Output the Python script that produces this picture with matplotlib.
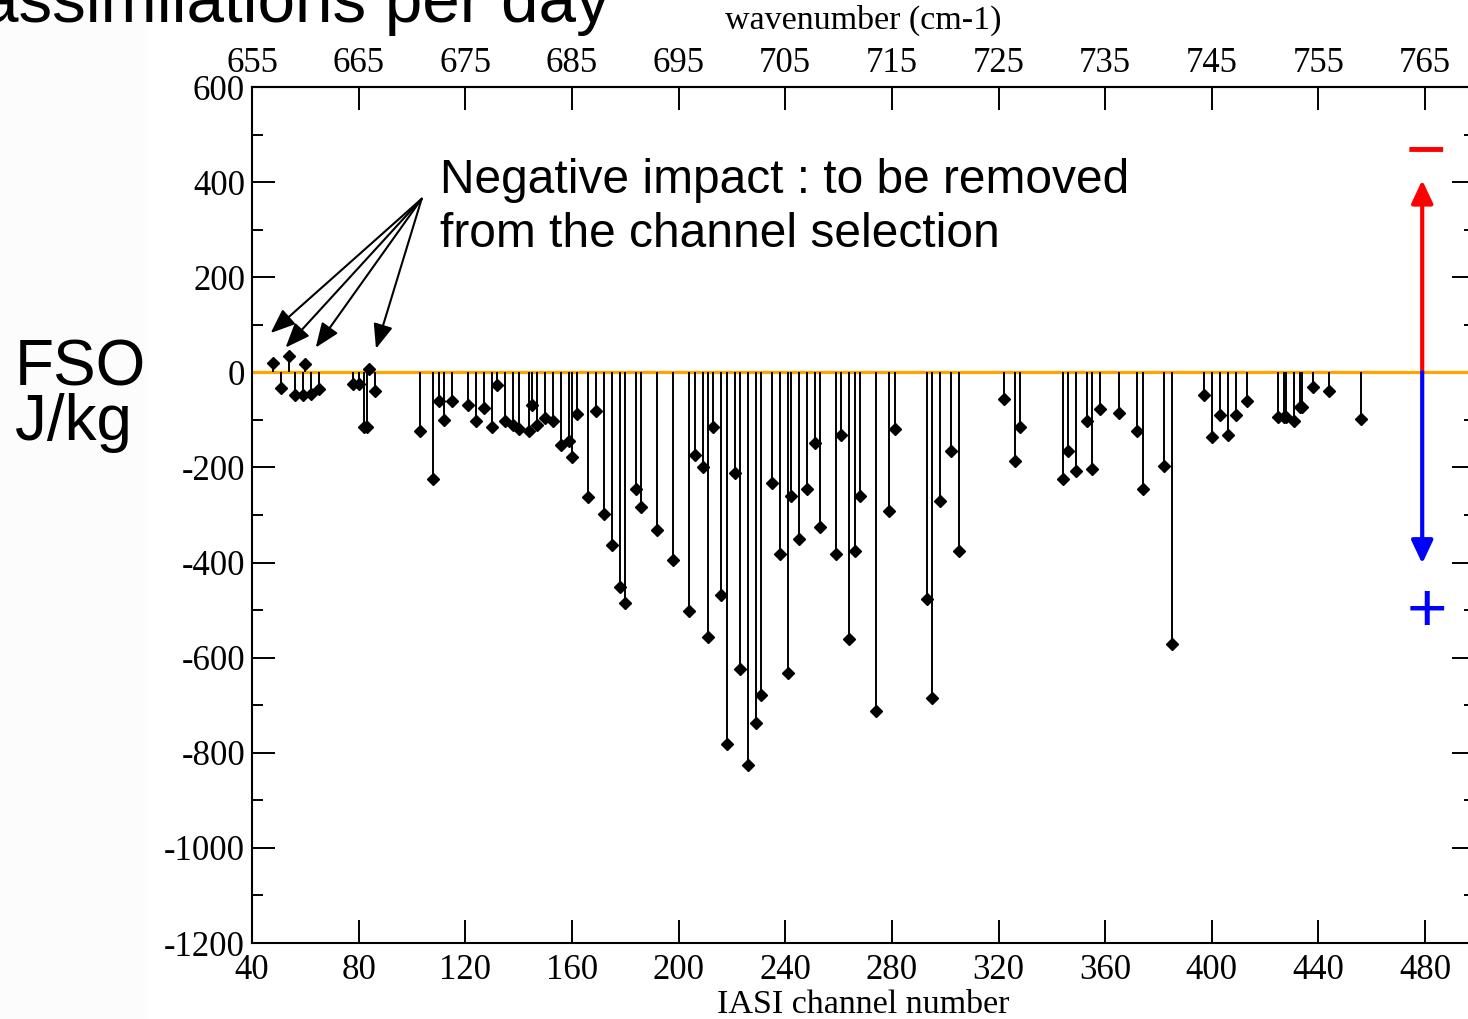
import matplotlib
matplotlib.use('Agg')
import matplotlib.pyplot as plt
from matplotlib.ticker import MultipleLocator
from matplotlib.patches import Rectangle

plt.rcParams['axes.unicode_minus'] = False

# IASI channel number and FSO impact (J/kg)
canales = [48, 51, 54, 56, 59, 60, 62, 65, 78, 80, 82, 83, 84, 86,
           103, 108, 110, 112, 115, 121, 124, 127, 130, 132, 135, 138, 140,
           144, 145, 147, 150, 153, 156, 159, 160, 162, 166, 169, 172, 175,
           178, 180, 184, 186, 192, 198, 204, 206, 209, 211, 213, 216, 218,
           221, 223, 226, 229, 231, 235, 238, 241, 242, 245, 248, 251, 253,
           259, 261, 264, 266, 268, 274, 279, 281, 293, 295, 298, 302, 305,
           322, 326, 328, 344, 346, 349, 353, 355, 358, 365, 372, 374, 382,
           385, 397, 400, 403, 406, 409, 413, 425, 427, 428, 431, 433, 434,
           438, 444, 456]
fso = [20, -32, 34, -48, -48, 17, -45, -36, -24, -25, -115, -115, 8, -39,
       -124, -225, -61, -100, -61, -68, -103, -74, -115, -26, -103, -110, -120,
       -124, -68, -111, -95, -103, -153, -145, -179, -87, -262, -82, -297, -364,
       -451, -486, -245, -283, -331, -394, -502, -173, -199, -557, -115, -469, -781,
       -212, -623, -826, -737, -679, -233, -383, -632, -259, -351, -246, -149, -325,
       -383, -132, -561, -376, -259, -712, -292, -120, -477, -684, -271, -165, -376,
       -57, -186, -116, -225, -165, -208, -103, -204, -78, -85, -123, -246, -196,
       -571, -48, -137, -90, -132, -90, -61, -94, -94, -94, -103, -73, -73,
       -31, -40, -99]

# puntas de las flechas de la anotación
canales_negativos = [47, 52.6, 63.9, 86.5]
fso_negativos = [82.6, 52.1, 52.1, 49.8]

ticks_canal = [40, 80, 120, 160, 200, 240, 280, 320, 360, 400, 440, 480]
ticks_onda = [655, 665, 675, 685, 695, 705, 715, 725, 735, 745, 755, 765]

serif = ['Liberation Serif', 'DejaVu Serif']
sans = ['Liberation Sans', 'DejaVu Sans']

W, H = 1468, 1019
fig = plt.figure(figsize=(W / 100, H / 100), dpi=100)
fig.patches.append(Rectangle((0, 0), 148 / W, 1, transform=fig.transFigure,
                             facecolor='#fcfcfc', edgecolor='none', zorder=0))

ax = fig.add_axes([252 / W, 76 / H, (1475 - 252) / W, 856 / H])
ax.set_xlim(40, 498.7)
ax.set_ylim(-1200, 600)

# tallos verticales y marcadores
ax.vlines(canales, 0, fso, color='black', lw=1.4, zorder=3)
ax.plot(canales, fso, linestyle='none', marker='D', ms=6, color='black', zorder=4)
ax.axhline(0, color='#ffa500', lw=2.3, zorder=2)

# flechas de signo
x_flecha = 478.9
ax.annotate('', xy=(x_flecha, 404), xytext=(x_flecha, 0),
            arrowprops=dict(arrowstyle='-|>,head_length=0.7,head_width=0.33',
                            mutation_scale=20, color='#ff0000', lw=3,
                            shrinkA=0, shrinkB=0), zorder=5)
ax.annotate('', xy=(x_flecha, -402), xytext=(x_flecha, 0),
            arrowprops=dict(arrowstyle='-|>,head_length=0.7,head_width=0.33',
                            mutation_scale=20, color='#0000ff', lw=3,
                            shrinkA=0, shrinkB=0), zorder=5)
ax.text(480.2, 461, '\u2212', color='#ff0000', fontsize=50, family=sans,
        ha='center', va='center')
ax.text(480.7, -507, '+', color='#0000ff', fontsize=50, family=sans,
        ha='center', va='center')

# texto de anotación con flechas
for cx, cy in zip(canales_negativos, fso_negativos):
    ax.annotate('', xy=(cx, cy), xytext=(103.65, 365),
                arrowprops=dict(arrowstyle='-|>,head_length=0.75,head_width=0.3',
                                mutation_scale=20, color='black', lw=1.5,
                                shrinkA=0, shrinkB=0))
ax.text(110.5, 346, 'Negative impact : to be removed\nfrom the channel selection',
        fontsize=34.5, family=sans, ha='left', va='center', linespacing=1.25)

# ejes
ax.set_xticks(ticks_canal)
ax.yaxis.set_major_locator(MultipleLocator(200))
ax.yaxis.set_minor_locator(MultipleLocator(100))
ax.tick_params(axis='both', which='major', direction='in', length=16.5, width=1.4,
               labelsize=25, pad=5)
ax.tick_params(axis='x', which='major', pad=8)
ax.tick_params(axis='y', which='both', right=True)
ax.tick_params(axis='y', which='minor', direction='in', length=8, width=1.4)
ax.tick_params(axis='x', which='both', top=False)
for lbl in ax.get_xticklabels() + ax.get_yticklabels():
    lbl.set_family(serif)
for s in ax.spines.values():
    s.set_linewidth(1.5)

ax.set_xlabel('IASI channel number', fontsize=24.5, family=serif, labelpad=2)

ax_top = ax.secondary_xaxis('top', functions=(lambda c: 645 + c / 4, lambda w: (w - 645) * 4))
ax_top.set_xticks(ticks_onda)
ax_top.tick_params(direction='in', length=16.5, width=1.4, labelsize=25, pad=5)
for lbl in ax_top.get_xticklabels():
    lbl.set_family(serif)
ax_top.spines['top'].set_linewidth(1.5)
ax_top.set_xlabel('wavenumber (cm-1)', fontsize=24.5, family=serif, labelpad=13)

# textos de la diapositiva
fig.text(15 / W, 1 - 386 / H, 'FSO', fontsize=46, family=sans, ha='left', va='baseline')
fig.text(15 / W, 1 - 440 / H, 'J/kg', fontsize=46, family=sans, ha='left', va='baseline')
fig.text(610 / W, 1 - 22 / H, 'assimilations per day', fontsize=48.5, family=sans,
         ha='right', va='baseline')

fig.savefig('out.png', dpi=100)
